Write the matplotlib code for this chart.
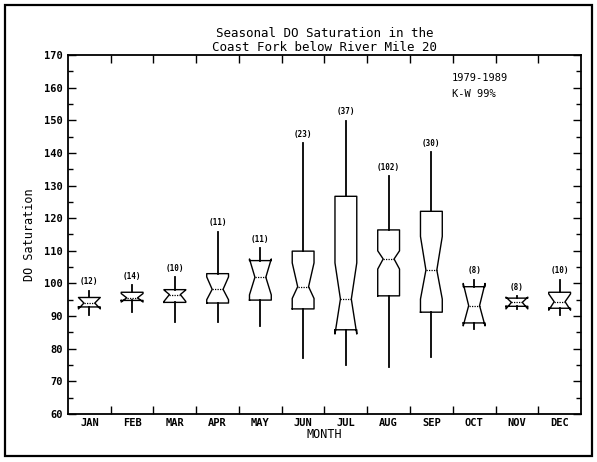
import numpy as np
import matplotlib.pyplot as plt
from matplotlib.patches import Rectangle

# Monthly DO saturation summary, 1979-1989
months = ["JAN", "FEB", "MAR", "APR", "MAY", "JUN",
          "JUL", "AUG", "SEP", "OCT", "NOV", "DEC"]
counts = [12, 14, 10, 11, 11, 23, 37, 102, 30, 8, 8, 10]
whis_lo = [90.3, 91.2, 88.1, 88.2, 86.9, 77.1, 75.1, 74.3, 77.4, 86.0, 92.2, 90.4]
q1 = [92.8, 94.8, 94.2, 94.0, 94.9, 92.2, 85.8, 96.2, 91.2, 87.9, 93.0, 92.4]
medians = [94.0, 95.6, 96.6, 98.2, 101.9, 99.0, 95.2, 107.5, 104.1, 93.2, 94.2, 94.4]
q3 = [95.7, 97.3, 98.1, 103.0, 107.0, 109.9, 126.7, 116.4, 122.1, 99.0, 95.5, 97.3]
whis_hi = [97.8, 99.6, 101.9, 115.9, 110.9, 143.0, 149.9, 133.0, 140.2, 101.2, 96.2, 101.2]
ci_lo = [92.2, 94.3, 94.5, 95.0, 96.5, 95.4, 84.5, 104.4, 95.2, 87.0, 92.2, 91.8]
ci_hi = [95.7, 96.9, 98.0, 102.0, 107.5, 106.3, 106.3, 110.0, 114.4, 100.0, 95.8, 96.8]

font = "DejaVu Sans Mono"
plt.rcParams["font.family"] = font

fig = plt.figure(figsize=(5.97, 4.62), dpi=100)
ax = fig.add_axes([0.1139, 0.1039, 0.8593, 0.7771])

# border around the whole sheet
fig.patches.append(Rectangle((0.0084, 0.013), 0.9832, 0.976, transform=fig.transFigure,
                             fill=False, edgecolor="black", linewidth=1.6))

stats = []
for i in range(len(months)):
    stats.append({"med": medians[i], "q1": q1[i], "q3": q3[i],
                  "whislo": whis_lo[i], "whishi": whis_hi[i],
                  "cilo": ci_lo[i], "cihi": ci_hi[i], "fliers": []})

positions = np.arange(1, len(months) + 1)
ax.bxp(stats, positions=positions, widths=0.51, shownotches=True,
       showcaps=False, showfliers=False,
       boxprops=dict(color="black", linewidth=1.0),
       whiskerprops=dict(color="black", linewidth=1.3),
       medianprops=dict(color="black", linewidth=0.9, linestyle=(0, (1, 1))))

for p, top, n in zip(positions, whis_hi, counts):
    ax.annotate(f"({n})", (p, top), xytext=(0, 3), textcoords="offset points",
                ha="center", va="bottom", fontsize=5.5, fontweight="bold")

ax.set_xlim(0.5, 12.5)
ax.set_ylim(60, 170)

ax.set_yticks(np.arange(60, 171, 10))
ax.set_yticks(np.arange(65, 170, 10), minor=True)
ax.tick_params(axis="y", which="both", direction="in", right=True, labelsize=7.5)
ax.tick_params(axis="y", which="major", length=5.5, width=1.0)
ax.tick_params(axis="y", which="minor", length=3.5, width=1.0)
for lbl in ax.get_yticklabels():
    lbl.set_fontweight("bold")

# month boundaries as ticks, names centred between them
ax.set_xticks(np.arange(1.5, 12, 1))
ax.set_xticklabels([])
ax.set_xticks(positions, minor=True)
ax.set_xticklabels(months, minor=True, fontsize=7.5, fontweight="bold")
ax.tick_params(axis="x", which="major", direction="in", top=True, length=6, width=1.0)
ax.tick_params(axis="x", which="minor", length=0, pad=3)

for s in ax.spines.values():
    s.set_linewidth(1.3)

ax.set_xlabel("MONTH", fontsize=8.5, labelpad=0)
ax.set_ylabel("DO Saturation", fontsize=8.5, labelpad=6)
ax.set_title("Seasonal DO Saturation in the\nCoast Fork below River Mile 20",
             fontsize=9, linespacing=1.1, pad=3)

ax.text(0.748, 0.95, "1979-1989\nK-W 99%", transform=ax.transAxes,
        fontsize=7.5, va="top", ha="left", linespacing=1.7)

fig.savefig("out.png", dpi=100)
